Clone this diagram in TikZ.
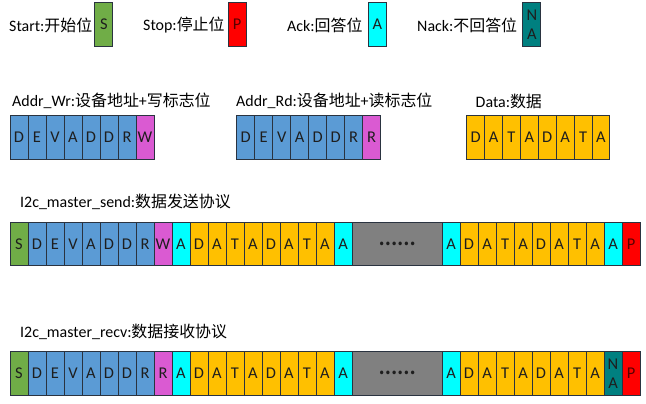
\documentclass[tikz,border=0pt]{standalone}
\usepackage{fontspec}
\setmainfont{Carlito}
\newfontfamily\cjk{Noto Sans CJK SC}
\definecolor{gS}{HTML}{70AD47}
\definecolor{bB}{HTML}{5B9BD5}
\definecolor{mW}{HTML}{DA5AD2}
\definecolor{cA}{HTML}{00FFFF}
\definecolor{yD}{HTML}{FFC000}
\definecolor{rP}{HTML}{FF0000}
\definecolor{tN}{HTML}{008080}
\definecolor{gG}{HTML}{808080}
\definecolor{bordc}{HTML}{2A3340}
\definecolor{txtc}{HTML}{1E1E1E}
\begin{document}
\begin{tikzpicture}[x=1bp,y=-1bp,
  cell/.style={draw=bordc, line width=0.8bp, minimum width=18bp, minimum height=43.4bp, inner sep=0pt,
    font=\fontsize{16.5}{19}\selectfont, text=txtc, align=center},
  ttl/.style={anchor=west, inner sep=0pt, font=\fontsize{16}{18}\selectfont, text=black}]
\useasboundingbox (0,0) rectangle (646,403);

% legend
\node[ttl] (lS) at (9,25) {Start:{\cjk 开始位}};
\node[cell, fill=gS] (kS) at (103.8,24.5) {S};
\node[ttl] (lP) at (143,25) {Stop:{\cjk 停止位}};
\node[cell, fill=rP, text=black!65!red] (kP) at (237,24.5) {P};
\node[ttl] (lA) at (287,25) {Ack:{\cjk 回答位}};
\node[cell, fill=cA] (kA) at (377.3,24.5) {A};
\node[ttl] (lN) at (417,25) {Nack:{\cjk 不回答位}};
\node[cell, fill=tN] (kN) at (531.8,24.5) {N\\A};

% row 2
\node[ttl] (tWr) at (12,101) {Addr\_Wr:{\cjk 设备地址}+{\cjk 写标志位}};
\foreach \t/\c [count=\i from 0] in {D/bB,E/bB,V/bB,A/bB,D/bB,D/bB,R/bB,W/mW}
  \node[cell, fill=\c] (wr\i) at ({19+18*\i},137.5) {\t};
\node[ttl] (tRd) at (236,101) {Addr\_Rd:{\cjk 设备地址}+{\cjk 读标志位}};
\foreach \t/\c [count=\i from 0] in {D/bB,E/bB,V/bB,A/bB,D/bB,D/bB,R/bB,R/mW}
  \node[cell, fill=\c] (rd\i) at ({245.7+18*\i},137.5) {\t};
\node[ttl] (tDa) at (475.5,101) {Data:{\cjk 数据}};
\foreach \t [count=\i from 0] in {D,A,T,A,D,A,T,A}
  \node[cell, fill=yD, minimum width=17.9bp] (da\i) at ({475.6+17.9*\i},137.5) {\t};

% row 3 send
\node[ttl] (tSnd) at (20,202) {I2c\_master\_send:{\cjk 数据发送协议}};
\foreach \t/\c [count=\i from 0] in {S/gS,D/bB,E/bB,V/bB,A/bB,D/bB,D/bB,R/bB,W/mW,A/cA,D/yD,A/yD,T/yD,A/yD,D/yD,A/yD,T/yD,A/yD,A/cA}
  \node[cell, fill=\c] (sa\i) at ({19+18*\i},244) {\t};
\node[cell, fill=gG, minimum width=90bp] (sgap) at (397,244) {\cjk\bfseries ……};
\foreach \t/\c [count=\i from 0] in {A/cA,D/yD,A/yD,T/yD,A/yD,D/yD,A/yD,T/yD,A/yD,A/cA}
  \node[cell, fill=\c] (sb\i) at ({451+18*\i},244) {\t};
\node[cell, fill=rP, text=black!65!red] (sP) at (631,244) {P};

% row 4 recv
\node[ttl] (tRcv) at (20,332) {I2c\_master\_recv:{\cjk 数据接收协议}};
\foreach \t/\c [count=\i from 0] in {S/gS,D/bB,E/bB,V/bB,A/bB,D/bB,D/bB,R/bB,R/mW,A/cA,D/yD,A/yD,T/yD,A/yD,D/yD,A/yD,T/yD,A/yD,A/cA}
  \node[cell, fill=\c] (ra\i) at ({19+18*\i},373.3) {\t};
\node[cell, fill=gG, minimum width=90bp] (rgap) at (397,373.3) {\cjk\bfseries ……};
\foreach \t/\c [count=\i from 0] in {A/cA,D/yD,A/yD,T/yD,A/yD,D/yD,A/yD,T/yD,A/yD}
  \node[cell, fill=\c] (rb\i) at ({451+18*\i},373.3) {\t};
\node[cell, fill=tN] (rN) at (613,373.3) {N\\A};
\node[cell, fill=rP, text=black!65!red] (rP) at (631,373.3) {P};
\end{tikzpicture}
\end{document}
